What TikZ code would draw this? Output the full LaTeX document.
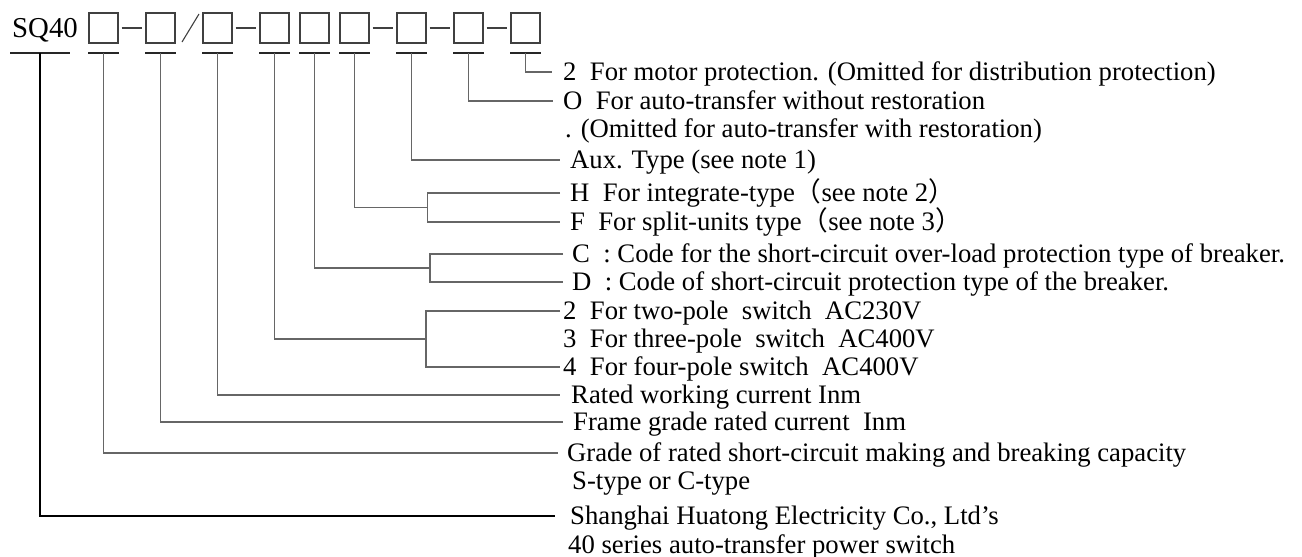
\documentclass[tikz,border=0pt]{standalone}
\usepackage{fontspec}
\setmainfont{Liberation Serif}
\newfontfamily\cjkfont{Noto Sans CJK SC}
\begin{document}
\begin{tikzpicture}[x=1pt,y=-1pt,
  box/.style={draw=black!75, line width=1.1pt, minimum width=29pt, minimum height=30pt, inner sep=0pt},
  dashl/.style={draw=black!75, line width=1.1pt, shorten <=3pt, shorten >=3pt},
  bar/.style={draw=black!85, line width=1.1pt},
  link/.style={draw=black!60, line width=1.2pt},
  txt/.style={anchor=west, inner ysep=0pt, text height=17.7pt, text depth=0pt, font=\fontsize{26.7}{28}\selectfont}]
\useasboundingbox (0,0) rectangle (1302,557);

% top code line
\node[anchor=west, inner sep=0pt, text height=19pt, text depth=0pt, font=\fontsize{28.8}{30}\selectfont] (sq) at (12,28) {SQ40};
\node[box] (b1) at (103.5,28) {};
\node[box] (b2) at (160.5,28) {};
\node[box] (b3) at (217.5,28) {};
\node[box] (b4) at (274.5,28) {};
\node[box] (b5) at (314.5,28) {};
\node[box] (b6) at (354.5,28) {};
\node[box] (b7) at (411.5,28) {};
\node[box] (b8) at (468.5,28) {};
\node[box] (b9) at (525.5,28) {};
\draw[dashl] (b1) -- (b2);
\draw[dashl] (b3) -- (b4);
\draw[dashl] (b6) -- (b7);
\draw[dashl] (b7) -- (b8);
\draw[dashl] (b8) -- (b9);
\draw[draw=black!75, line width=1.1pt] (182,42) -- (199,14);

% under-bars
\coordinate (u0) at (40,53);
\coordinate (u1) at (103.5,53);
\coordinate (u2) at (160.5,53);
\coordinate (u3) at (217.5,53);
\coordinate (u4) at (274.5,53);
\coordinate (u5) at (314.5,53);
\coordinate (u6) at (354.5,53);
\coordinate (u7) at (411.5,53);
\coordinate (u8) at (468.5,53);
\coordinate (u9) at (525.5,53);
\draw[bar] (10,53) -- (70,53);
\foreach \i in {1,...,9} {\draw[bar] (b\i.west |- u\i) -- (b\i.east |- u\i);}

% texts
\node[txt, inner xsep=11pt] (t1) at (552,72) {2\ \ For motor protection. (Omitted for distribution protection)};
\node[txt, inner xsep=10pt] (t2) at (553,101) {O\ \ For auto-transfer without restoration};
\node[txt, inner xsep=0pt] (t3) at (565,129) {. (Omitted for auto-transfer with restoration)};
\node[txt, inner xsep=10pt] (t4) at (560,160) {Aux. Type (see note 1)};
\node[txt, inner xsep=10pt] (t5) at (560,193) {H\ \ For integrate-type{\cjkfont （}see note 2{\cjkfont ）}};
\node[txt, inner xsep=10pt] (t6) at (560,222) {F\ \ For split-units type{\cjkfont （}see note 3{\cjkfont ）}};
\node[txt, inner xsep=9pt] (t7) at (563,254) {C\ \ : Code for the short-circuit over-load protection type of breaker.};
\node[txt, inner xsep=9pt] (t8) at (563,282) {D\ \ : Code of short-circuit protection type of the breaker.};
\node[txt, inner xsep=3pt] (t9) at (560,311) {2\ \ For two-pole\ \ switch\ \ AC230V};
\node[txt, inner xsep=0pt] (t10) at (563,339) {3\ \ For three-pole\ \ switch\ \ AC400V};
\node[txt, inner xsep=3pt] (t11) at (560,367) {4\ \ For four-pole switch\ \ AC400V};
\node[txt, inner xsep=11pt] (t12) at (560,395) {Rated working current Inm};
\node[txt, inner xsep=10pt] (t13) at (563,422) {Frame grade rated current\ \ Inm};
\node[txt, inner xsep=9pt] (t14) at (558,453) {Grade of rated short-circuit making and breaking capacity};
\node[txt, inner xsep=0pt] (t15) at (572,481) {S-type or C-type};
\node[txt, inner xsep=15pt] (t16) at (555,516) {Shanghai Huatong Electricity Co., Ltd's};
\node[txt, inner xsep=0pt] (t17) at (568,545) {40 series auto-transfer power switch};

% connectors
\draw[link] (u9) |- (t1);
\draw[link] (u8) |- (t2);
\draw[link] (u7) |- (t4);
\coordinate (k6) at (427.7,207.7);
\draw[link] (u6) |- (k6);
\draw[link] (t5) -| (k6) |- (t6);
\coordinate (k5) at (430,268);
\draw[link] (u5) |- (k5);
\draw[link] (t7) -| (k5) |- (t8);
\coordinate (k4) at (426,339);
\draw[link] (u4) |- (k4);
\draw[link] (t9) -| (k4) |- (t11);
\draw[link] (u3) |- (t12);
\draw[link] (u2) |- (t13);
\draw[link] (u1) |- (t14);
\draw[link, draw=black] (u0) |- (t16);
\end{tikzpicture}
\end{document}
